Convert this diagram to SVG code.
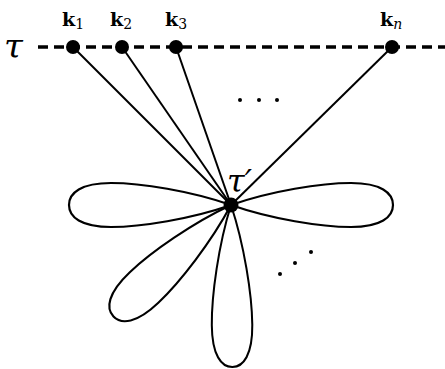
<svg xmlns="http://www.w3.org/2000/svg" width="445" height="369" viewBox="0 0 445 369">
<style>
.e{stroke:#000;stroke-width:2;fill:none}
.p{stroke:#000;stroke-width:2.2;fill:none}
.d{stroke:#000;stroke-width:3.5;stroke-dasharray:10 6;fill:none}
.lb{font-family:"DejaVu Serif","Liberation Serif",serif;font-weight:bold;font-size:19px}
.sb{font-family:"DejaVu Serif","Liberation Serif",serif;font-weight:normal;font-size:14px}
.t{font-family:"DejaVu Serif","Liberation Serif",serif;font-style:italic}
</style>
<defs>
<path id="petal" d="M0,0 C-40,-14 -90,-22 -120,-22 C-150,-22 -162,-12 -162,0 C-162,12 -150,22 -120,22 C-90,22 -40,14 0,0 Z"/>
</defs>
<rect width="445" height="369" fill="#fff"/>
<g id="connectors">
<line class="d" x1="38" y1="47" x2="445" y2="47"/>
<line class="e" x1="73" y1="47" x2="231" y2="205"/>
<line class="e" x1="122" y1="47" x2="231" y2="205"/>
<line class="e" x1="176" y1="47" x2="231" y2="205"/>
<line class="e" x1="392" y1="47" x2="231" y2="205"/>
<use href="#petal" class="p" transform="translate(231,205)"/>
<use href="#petal" class="p" transform="translate(231,205) rotate(180)"/>
<use href="#petal" class="p" transform="translate(231,205) rotate(-43.5) scale(1,0.95)"/>
<use href="#petal" class="p" transform="translate(231,205) rotate(-90.5) scale(1,0.92)"/>
</g>
<g id="tau"><text class="t" x="4" y="58" font-size="34">τ</text></g>
<g id="k1"><circle cx="73" cy="47" r="7"/><text class="lb" x="62" y="26">k<tspan class="sb" dy="3">1</tspan></text></g>
<g id="k2"><circle cx="122" cy="47" r="7"/><text class="lb" x="110" y="26">k<tspan class="sb" dy="3">2</tspan></text></g>
<g id="k3"><circle cx="176" cy="47" r="7"/><text class="lb" x="165" y="26">k<tspan class="sb" dy="3">3</tspan></text></g>
<g id="kn"><circle cx="392" cy="47" r="7"/><text class="lb" x="380" y="26">k<tspan class="sb" dy="3" font-style="italic">n</tspan></text></g>
<g id="center"><circle cx="231" cy="205" r="7.5"/><text class="t" x="227" y="192" font-size="32">τ′</text></g>
<g id="dots">
<circle cx="240" cy="100" r="2"/><circle cx="259" cy="100" r="2"/><circle cx="277" cy="100" r="2"/>
<circle cx="280" cy="274" r="2"/><circle cx="295" cy="263" r="2"/><circle cx="311" cy="252" r="2"/>
</g>
</svg>
